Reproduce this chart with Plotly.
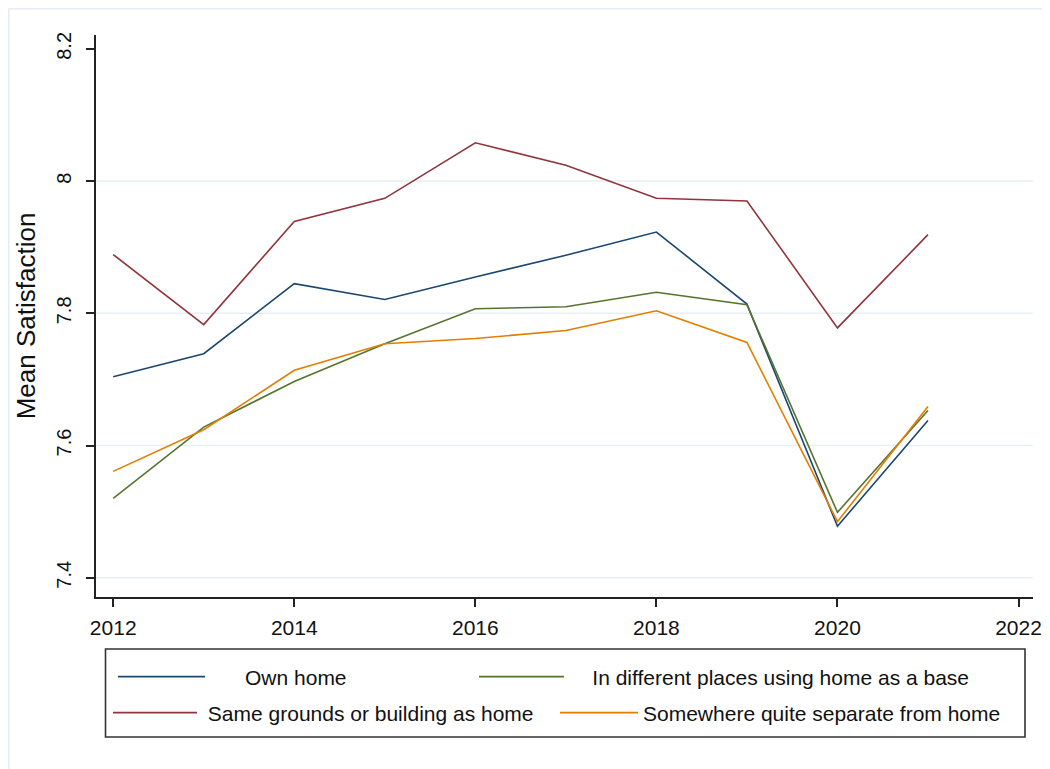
import plotly.graph_objects as go

# survey years
years = [2012, 2013, 2014, 2015, 2016, 2017, 2018, 2019, 2020, 2021]

# mean satisfaction by place of work
own_home = [7.704, 7.739, 7.845, 7.821, 7.855, 7.888, 7.923, 7.814, 7.478, 7.638]
diff_places = [7.520, 7.628, 7.697, 7.754, 7.807, 7.810, 7.832, 7.813, 7.499, 7.653]
same_grounds = [7.889, 7.783, 7.939, 7.974, 8.058, 8.024, 7.974, 7.970, 7.778, 7.919]
separate = [7.561, 7.624, 7.714, 7.754, 7.762, 7.774, 7.804, 7.756, 7.485, 7.659]

names = [
    "Own home",
    "In different places using home as a base",
    "Same grounds or building as home",
    "Somewhere quite separate from home",
]
colors = ["#1a476f", "#55752f", "#90353b", "#e37e00"]

y_ticks = [7.4, 7.6, 7.8, 8.0, 8.2]
y_tick_text = ["7.4", "7.6", "7.8", "8", "8.2"]
grid_y = [7.4, 7.6, 7.8, 8.0]
x_ticks = [2012, 2014, 2016, 2018, 2020, 2022]

# plot area in figure pixels (page adds an 8px body margin)
PL, PR, PT, PB = 88, 1025, 27, 589
PW, PH = PR - PL, PB - PT


def px(x):
    return (x - PL) / PW


def py(y):
    return (PB - y) / PH


# one legend per key so the stata-like layout can be placed by hand:
# (legend x, key width, leading pad, row centre y)
key_slots = [
    (105, 87, 6, 669),
    (466, 85, 4, 669),
    (100, 84, 1, 705),
    (547, 78, 0, 705),
]

fig = go.Figure()
vals_all = [own_home, diff_places, same_grounds, separate]
for i, (name, vals, col) in enumerate(zip(names, vals_all, colors)):
    lg = "legend" if i == 0 else "legend%d" % (i + 1)
    fig.add_trace(
        go.Scatter(
            x=years,
            y=vals,
            mode="lines",
            name="\u00a0" * key_slots[i][2] + name,
            line=dict(color=col, width=1.6),
            legend=lg,
        )
    )

legends = {}
for i, (lx, kw, pad, ry) in enumerate(key_slots):
    lg = "legend" if i == 0 else "legend%d" % (i + 1)
    legends[lg] = dict(
        x=px(lx),
        xanchor="left",
        y=py(ry),
        yanchor="middle",
        orientation="h",
        itemwidth=kw,
        bgcolor="rgba(0,0,0,0)",
        borderwidth=0,
        font=dict(size=21, color="#111111"),
    )

# stata style gridlines, none at the top tick
for g in grid_y:
    fig.add_shape(
        type="line", xref="paper", yref="y", x0=0, x1=1, y0=g, y1=g,
        line=dict(color="#e6eff3", width=1.5), layer="below",
    )

# legend box
fig.add_shape(
    type="rect", xref="paper", yref="paper",
    x0=px(97.5), x1=px(1017), y0=py(729), y1=py(641),
    line=dict(color="#333333", width=1.6),
)

# light frame around the whole graph region
fig.add_shape(
    type="rect", xref="paper", yref="paper",
    x0=px(0.5), x1=px(1070), y0=py(790), y1=py(0.5),
    line=dict(color="#e6ecf1", width=2),
)

fig.update_layout(
    width=1050,
    height=769,
    margin=dict(l=PL, r=1050 - PR, t=PT, b=769 - PB),
    paper_bgcolor="white",
    plot_bgcolor="white",
    font=dict(family="Liberation Sans, Arial, sans-serif", size=20, color="#111111"),
    showlegend=True,
    **legends,
)

fig.update_xaxes(
    range=[2011.81, 2022.16],
    tickvals=x_ticks,
    tickfont=dict(size=21),
    showgrid=False,
    zeroline=False,
    showline=True,
    linecolor="#222222",
    linewidth=2,
    ticks="outside",
    ticklen=8,
    tickwidth=2,
    tickcolor="#222222",
    ticklabelstandoff=3,
)

fig.update_yaxes(
    range=[7.371, 8.221],
    tickvals=y_ticks,
    ticktext=y_tick_text,
    tickangle=-90,
    tickfont=dict(size=20),
    showgrid=False,
    zeroline=False,
    showline=True,
    linecolor="#222222",
    linewidth=2,
    ticks="outside",
    ticklen=8,
    tickwidth=2,
    tickcolor="#222222",
    ticklabelstandoff=7,
    title=dict(text="Mean Satisfaction", font=dict(size=26), standoff=10),
)

fig.write_html("out.html")
